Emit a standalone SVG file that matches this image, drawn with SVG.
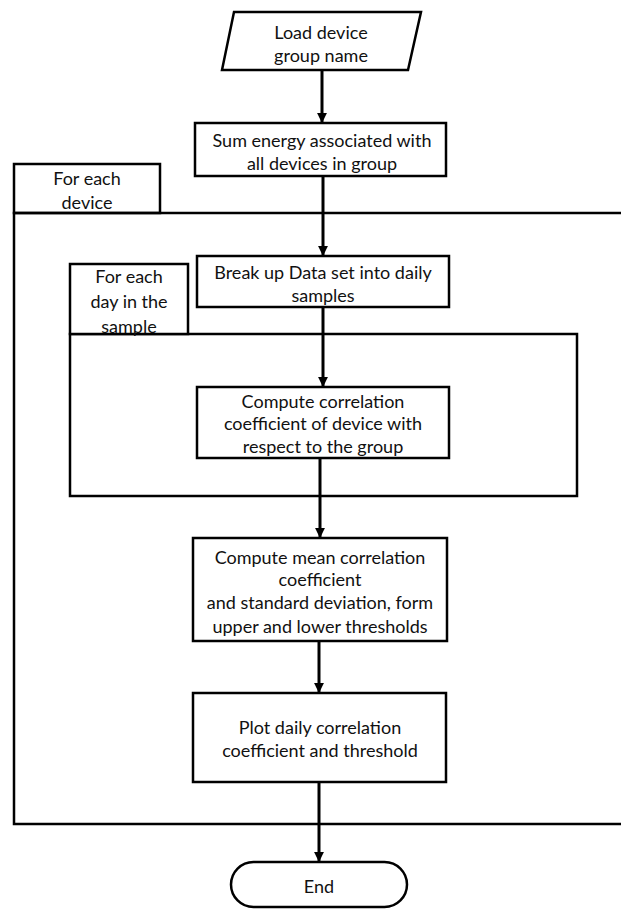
<svg xmlns="http://www.w3.org/2000/svg" width="621" height="909" viewBox="0 0 621 909">
  <defs>
    <marker id="arrow" viewBox="0 0 10 10" refX="10" refY="5" markerWidth="3.3" markerHeight="3.3" markerUnits="strokeWidth" orient="auto">
      <path d="M0,0 L10,5 L0,10 z" fill="#000"/>
    </marker>
  </defs>
  <style>
    .shape { fill: #fff; stroke: #000; stroke-width: 2.5; }
    .loop { fill: none; stroke: #000; stroke-width: 2.5; }
    .conn { fill: none; stroke: #000; stroke-width: 3; marker-end: url(#arrow); }
    text { font-family: Lato, "Open Sans", "Liberation Sans", sans-serif; font-size: 18px; fill: #111; text-anchor: middle; dominant-baseline: central; }
  </style>

  <!-- Outer loop frame: "For each device" -->
  <g id="loop-device">
    <rect class="shape" x="14" y="164" width="146" height="49"/>
    <path class="loop" d="M621,213 H14 V824 H621"/>
    <text x="87" y="178">For each</text>
    <text x="87" y="202">device</text>
  </g>

  <!-- Inner loop frame: "For each day in the sample" -->
  <g id="loop-day">
    <rect class="loop" x="70" y="334" width="507" height="162"/>
    <rect class="shape" x="70" y="264" width="118" height="70"/>
    <text x="129" y="276">For each</text>
    <text x="129" y="301">day in the</text>
    <text x="129" y="326">sample</text>
  </g>

  <!-- Flow connectors -->
  <g id="connectors">
    <line class="conn" x1="322" y1="70" x2="322" y2="123"/>
    <line class="conn" x1="323" y1="176" x2="323" y2="256"/>
    <line class="conn" x1="323" y1="307" x2="323" y2="387"/>
    <line class="conn" x1="320" y1="458" x2="320" y2="538"/>
    <line class="conn" x1="319" y1="641" x2="319" y2="693"/>
    <line class="conn" x1="319" y1="782" x2="319" y2="862"/>
  </g>

  <g id="load-group">
    <polygon class="shape" points="234,12 421,12 408,70 222,70"/>
    <text x="321" y="32">Load device</text>
    <text x="321" y="55">group name</text>
  </g>

  <g id="sum-energy">
    <rect class="shape" x="195" y="123" width="251" height="53"/>
    <text x="322" y="140">Sum energy associated with</text>
    <text x="322" y="163">all devices in group</text>
  </g>

  <g id="split-daily">
    <rect class="shape" x="197" y="256" width="252" height="51"/>
    <text x="323" y="272">Break up Data set into daily</text>
    <text x="323" y="295">samples</text>
  </g>

  <g id="daily-correlation">
    <rect class="shape" x="197" y="387" width="252" height="71"/>
    <text x="323" y="401">Compute correlation</text>
    <text x="323" y="423">coefficient of device with</text>
    <text x="323" y="446">respect to the group</text>
  </g>

  <g id="mean-thresholds">
    <rect class="shape" x="193" y="538" width="254" height="103"/>
    <text x="320" y="557">Compute mean correlation</text>
    <text x="320" y="579">coefficient</text>
    <text x="320" y="602">and standard deviation, form</text>
    <text x="320" y="626">upper and lower thresholds</text>
  </g>

  <g id="plot">
    <rect class="shape" x="193" y="693" width="253" height="89"/>
    <text x="320" y="727">Plot daily correlation</text>
    <text x="320" y="750">coefficient and threshold</text>
  </g>

  <g id="end">
    <rect class="shape" x="231" y="862" width="176" height="45" rx="22.5" ry="22.5"/>
    <text x="319" y="886">End</text>
  </g>
</svg>
